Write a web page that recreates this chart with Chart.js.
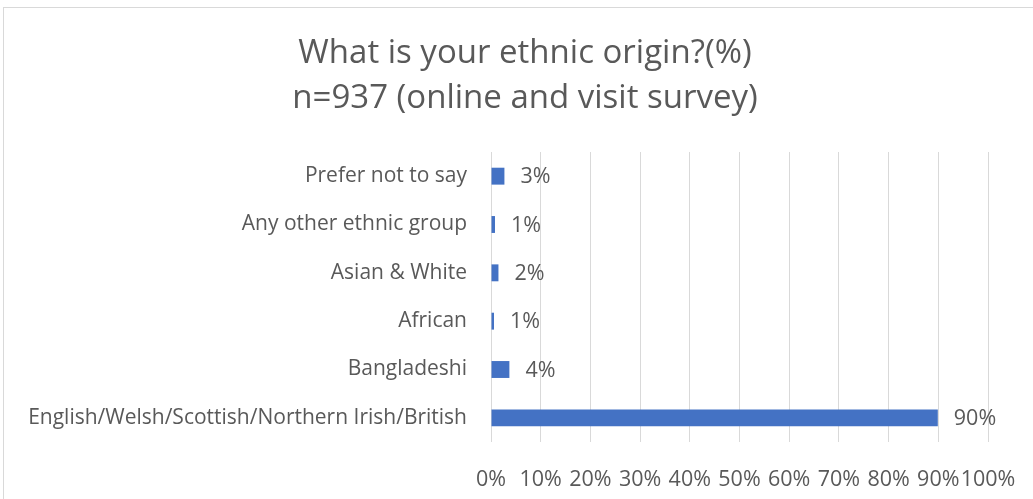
<!DOCTYPE html>
<html>
<head>
<meta charset="utf-8">
<script src="https://cdn.jsdelivr.net/npm/chart.js@4"></script>
<style>
    html, body { margin: 0; padding: 0; background: #fff; }
    #wrap { position: relative; width: 1033px; height: 499px; overflow: hidden; }
    #frame { position: absolute; left: 3px; top: 7px; width: 1100px; height: 600px; border: 1px solid #d9d9d9; }
    canvas { position: absolute; left: 0; top: 0; }
</style>
</head>
<body>
<div id="wrap">
    <div id="frame"></div>
    <canvas id="ethnicChart" width="1033" height="499"></canvas>
</div>
<script>
// Categories, top to bottom as shown
const categories = [
    'Prefer not to say',
    'Any other ethnic group',
    'Asian & White',
    'African',
    'Bangladeshi',
    'English/Welsh/Scottish/Northern Irish/British'
];
// Percentages
const percentValues = [2.7, 0.8, 1.5, 0.6, 3.7, 89.9];
const tickValues = [0, 10, 20, 30, 40, 50, 60, 70, 80, 90, 100];
const titleLines = ['What is your ethnic origin?(%)', 'n=937 (online and visit survey)'];

const fontFamily = "'Open Sans', 'Noto Sans', sans-serif";
const textColor = '#595959';

// title is centred on the whole frame, not on the plot area, so draw it ourselves
const chartTitle = {
    id: 'chartTitle',
    afterDraw(chart) {
        const ctx = chart.ctx;
        ctx.save();
        ctx.font = '33px ' + fontFamily;
        ctx.fillStyle = textColor;
        ctx.textAlign = 'center';
        ctx.textBaseline = 'alphabetic';
        titleLines.forEach((line, i) => {
            ctx.fillText(line, 525, 63 + i * 45);
        });
        ctx.restore();
    }
};

// draw value labels at the end of each bar
const valueLabels = {
    id: 'valueLabels',
    afterDatasetsDraw(chart) {
        const ctx = chart.ctx;
        const meta = chart.getDatasetMeta(0);
        ctx.save();
        ctx.font = '21.5px ' + fontFamily;
        ctx.fillStyle = textColor;
        ctx.textAlign = 'left';
        ctx.textBaseline = 'middle';
        meta.data.forEach((bar, i) => {
            ctx.fillText(Math.round(percentValues[i]) + '%', bar.x + 16, bar.y + 1);
        });
        ctx.restore();
    }
};

const ctx = document.getElementById('ethnicChart').getContext('2d');
new Chart(ctx, {
    type: 'bar',
    data: {
        labels: categories,
        datasets: [{
            data: percentValues,
            backgroundColor: '#4472C4',
            borderWidth: 0,
            barPercentage: 0.35,
            categoryPercentage: 1
        }]
    },
    options: {
        responsive: false,
        animation: false,
        indexAxis: 'y',
        layout: { padding: { top: 152, right: 45, bottom: 0, left: 0 } },
        plugins: {
            legend: { display: false },
            tooltip: { enabled: false },
            title: { display: false }
        },
        scales: {
            x: {
                min: 0,
                max: 100,
                afterBuildTicks: (scale) => { scale.ticks = tickValues.map(v => ({ value: v })); },
                grid: { color: '#d9d9d9', lineWidth: 1, drawTicks: false },
                border: { display: false },
                ticks: {
                    color: textColor,
                    font: { family: fontFamily, size: 21.5 },
                    padding: 25,
                    maxRotation: 0,
                    autoSkip: false,
                    callback: (v) => v + '%'
                },
                afterFit: (scale) => {
                    scale.height = 57;
                    scale.paddingLeft = 0;
                    scale.paddingRight = 0;
                }
            },
            y: {
                grid: { display: false, drawTicks: false },
                border: { display: false },
                ticks: {
                    color: textColor,
                    font: { family: fontFamily, size: 21 },
                    padding: 24
                },
                afterFit: (scale) => { scale.width = 491; }
            }
        }
    },
    plugins: [valueLabels, chartTitle]
});
</script>
</body>
</html>
